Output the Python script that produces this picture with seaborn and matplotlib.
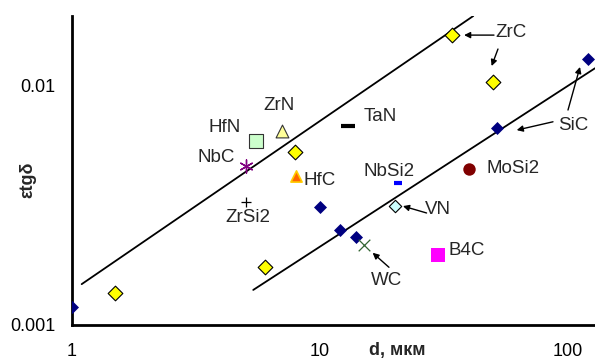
import numpy as np
import pandas as pd
import seaborn as sns
import matplotlib.pyplot as plt
import matplotlib.ticker as ticker

sns.set_style('white')
plt.rcParams['font.family'] = ['Liberation Sans', 'DejaVu Sans']

# grain size d (мкм) and ε·tgδ for each material
materials = ['SiC', 'SiC', 'SiC', 'SiC', 'SiC', 'SiC',
             'ZrC', 'ZrC', 'ZrC', 'ZrC', 'ZrC',
             'HfN', 'ZrN', 'NbC', 'HfC', 'TaN', 'ZrSi2',
             'NbSi2', 'MoSi2', 'VN', 'WC', 'B4C']
d_values = [1.0, 10.0, 12.0, 14.0, 51.7, 120.0,
            1.49, 6.0, 7.93, 34.2, 50.0,
            5.5, 7.0, 5.03, 8.0, 13.0, 5.03,
            20.6, 39.9, 20.1, 15.0, 30.0]
tgd_values = [0.00119, 0.0031, 0.00249, 0.00233, 0.00662, 0.0128,
              0.00136, 0.00175, 0.00527, 0.01615, 0.01026,
              0.00585, 0.00643, 0.00461, 0.00418, 0.00676, 0.00327,
              0.00392, 0.00447, 0.00313, 0.00216, 0.00196]

# trend lines (end points)
upper_x = [1.094, 41.5]
upper_y = [0.00148, 0.0194]
lower_x = [5.38, 128.5]
lower_y = [0.0014, 0.01175]

# text labels
label_text = ['ZrC', 'SiC', 'TaN', 'NbSi2', 'MoSi2', 'HfC', 'HfN', 'ZrN',
              'NbC', 'ZrSi2', 'VN', 'B4C', 'WC']
label_x = [58.9, 104.7, 17.46, 18.97, 60.0, 10.0, 4.14, 6.83,
           3.81, 5.10, 29.8, 39.0, 18.62]
label_y = [0.0166, 0.00681, 0.00738, 0.00435, 0.00447, 0.00402, 0.00667, 0.00818,
           0.00498, 0.0028, 0.00303, 0.00204, 0.00154]

# arrows: tail -> head
arrow_tail_x = [50.3, 52.2, 87.0, 100.0, 26.9, 18.97]
arrow_tail_y = [0.01615, 0.01413, 0.00703, 0.00787, 0.00293, 0.00174]
arrow_head_x = [38.1, 49.2, 62.1, 111.8, 21.6, 16.3]
arrow_head_y = [0.01615, 0.0120, 0.00649, 0.0119, 0.00313, 0.0020]

df = pd.DataFrame({'material': materials, 'd': d_values, 'tgd': tgd_values})

styles = {
    'SiC':   dict(marker='D', s=44, color='#000080', edgecolor='#000080', linewidth=0),
    'ZrC':   dict(marker='D', s=56, color='#FFFF00', edgecolor='black', linewidth=0.8),
    'HfN':   dict(marker='s', s=88, color='#CCFFCC', edgecolor='#333333', linewidth=0.8),
    'ZrN':   dict(marker='^', s=85, color='#FFFF99', edgecolor='#333333', linewidth=0.8),
    'NbC':   dict(marker=(6, 2, 0), s=90, color='#800080', linewidth=1.0),
    'HfC':   dict(marker='^', s=65, color='#FF6600', edgecolor='#FFCC00', linewidth=1.2),
    'TaN':   dict(marker='_', s=110, color='black', linewidth=3),
    'ZrSi2': dict(marker='+', s=60, color='black', linewidth=0.9),
    'NbSi2': dict(marker='_', s=35, color='#0000FF', linewidth=3),
    'MoSi2': dict(marker='o', s=80, color='#800000', edgecolor='#800000', linewidth=0),
    'VN':    dict(marker='D', s=40, color='#CCFFFF', edgecolor='black', linewidth=0.8),
    'WC':    dict(marker='x', s=70, color='#336633', linewidth=0.9),
    'B4C':   dict(marker='s', s=100, color='#FF00FF', edgecolor='#FF00FF', linewidth=0),
}

fig = plt.figure(figsize=(5.95, 3.61), dpi=100)
ax = fig.add_axes([72 / 595, 1 - 325 / 361, 523 / 595, 309 / 361])

sns.lineplot(x=upper_x, y=upper_y, ax=ax, color='black', linewidth=1.3, sort=False)
sns.lineplot(x=lower_x, y=lower_y, ax=ax, color='black', linewidth=1.3, sort=False)

for name, st in styles.items():
    sub = df[df['material'] == name]
    sns.scatterplot(data=sub, x='d', y='tgd', ax=ax, zorder=3, legend=False, **st)

for t, x, y in zip(label_text, label_x, label_y):
    ax.text(x, y, t, fontsize=13.5, ha='center', va='center')

for tx, ty, hx, hy in zip(arrow_tail_x, arrow_tail_y, arrow_head_x, arrow_head_y):
    ax.annotate('', xy=(hx, hy), xytext=(tx, ty),
                arrowprops=dict(arrowstyle='-|>', color='black', lw=1.0,
                                mutation_scale=9, shrinkA=0, shrinkB=0))

ax.set_xscale('log')
ax.set_yscale('log')
ax.set_xlim(1, 128.5)
ax.set_ylim(0.001, 0.0194)
ax.xaxis.set_major_locator(ticker.FixedLocator([1, 10, 100]))
ax.xaxis.set_major_formatter(ticker.FixedFormatter(['1', '10', '100']))
ax.yaxis.set_major_locator(ticker.FixedLocator([0.001, 0.01]))
ax.yaxis.set_major_formatter(ticker.FixedFormatter(['0.001', '0.01']))
ax.xaxis.set_minor_locator(ticker.LogLocator(base=10, subs=np.arange(2, 10)))
ax.yaxis.set_minor_locator(ticker.LogLocator(base=10, subs=np.arange(2, 10)))
ax.xaxis.set_minor_formatter(ticker.NullFormatter())
ax.yaxis.set_minor_formatter(ticker.NullFormatter())

ax.tick_params(which='major', direction='inout', length=12, width=1.6, labelsize=13, colors='black')
ax.tick_params(axis='x', which='major', pad=7)
ax.tick_params(axis='y', which='major', pad=6)
ax.tick_params(which='minor', direction='out', length=4, width=1.6, colors='black')

for side in ['top', 'right']:
    ax.spines[side].set_visible(False)
for side in ['left', 'bottom']:
    ax.spines[side].set_linewidth(2)
    ax.spines[side].set_color('black')
ax.set_xlabel('')
ax.set_ylabel('')

fig.text(397 / 595, 1 - 351 / 361, 'd, мкм', fontsize=13, fontweight='bold', ha='center', va='center')
fig.text(28 / 595, 1 - 180 / 361, 'εtgδ', fontsize=13, fontweight='bold', ha='center', va='center', rotation=90)

fig.savefig('out.png', dpi=100)
